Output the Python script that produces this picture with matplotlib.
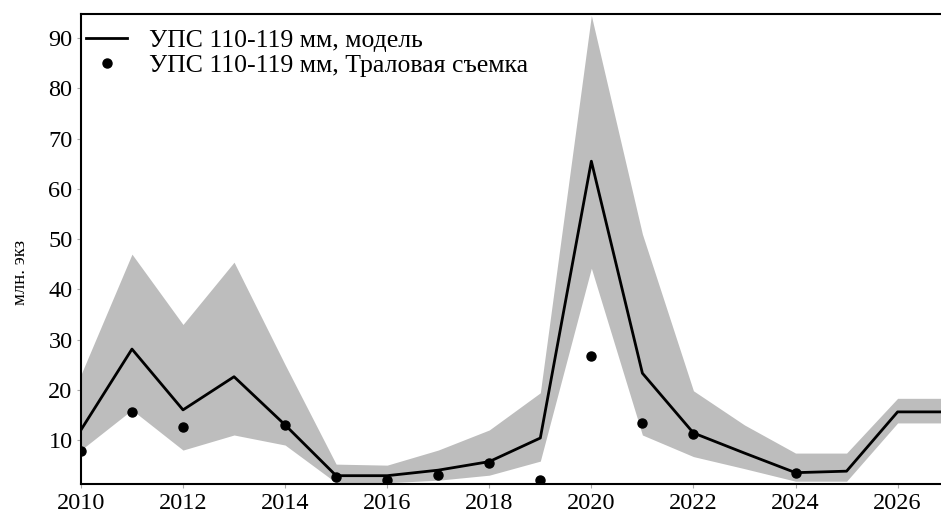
import numpy as np
import matplotlib.pyplot as plt

plt.rcParams['font.family'] = ['Liberation Serif', 'DejaVu Serif']

#%% data

years = [2010, 2011, 2012, 2013, 2014, 2015, 2016, 2017, 2018, 2019,
         2020, 2021, 2022, 2023, 2024, 2025, 2026, 2027]
model = [12.0, 28.1, 16.0, 22.6, 13.0, 2.9, 2.9, 4.0, 5.7, 10.4,
         65.5, 23.3, 11.4, 7.4, 3.5, 3.8, 15.6, 15.6]
upper = [23.0, 47.0, 33.0, 45.4, 25.0, 5.2, 5.0, 8.0, 12.0, 19.4,
         94.5, 51.0, 19.8, 13.0, 7.4, 7.4, 18.3, 18.3]
lower = [8.0, 16.0, 8.0, 11.0, 9.0, 1.5, 1.5, 2.0, 3.0, 5.8,
         44.2, 11.0, 6.7, 4.3, 1.8, 1.8, 13.4, 13.4]

survey_years = [2010, 2011, 2012, 2014, 2015, 2016, 2017, 2018, 2019,
                2020, 2021, 2022, 2024]
survey = [7.8, 15.6, 12.6, 13.0, 2.6, 2.0, 3.0, 5.4, 2.1,
          26.8, 13.4, 11.2, 3.5]

#%% plot

fig = plt.figure(figsize=(9.41, 5.19), dpi=100)
ax = fig.add_axes([0.086, 0.067, 0.914, 0.906])

ax.fill_between(years, lower, upper, color='#bdbdbd', lw=0, zorder=1)
ax.plot(years, model, color='black', lw=2, zorder=3,
        label='УПС 110-119 мм, модель')
ax.plot(survey_years, survey, 'o', color='black', ms=6.5, zorder=4,
        label='УПС 110-119 мм, Траловая съемка')

ax.set_xlim(2010, 2026.85)
ax.set_ylim(1.2, 94.8)
ax.set_xticks(range(2010, 2027, 2))
ax.set_yticks(range(10, 91, 10))
ax.tick_params(labelsize=17.5, length=3, color='#aaaaaa', pad=3)
ax.set_ylabel('млн. экз', fontsize=13.5)
ax.yaxis.set_label_coords(-0.06, 0.45)

ax.spines['right'].set_visible(False)
for s in ['left', 'top', 'bottom']:
    ax.spines[s].set_linewidth(1.5)

ax.legend(loc='upper left', frameon=False, fontsize=18.5,
          handlelength=1.6, borderaxespad=0.2, labelspacing=0.05,
          handletextpad=0.85, bbox_to_anchor=(-0.012, 1.0))

fig.savefig('out.png', dpi=100)
